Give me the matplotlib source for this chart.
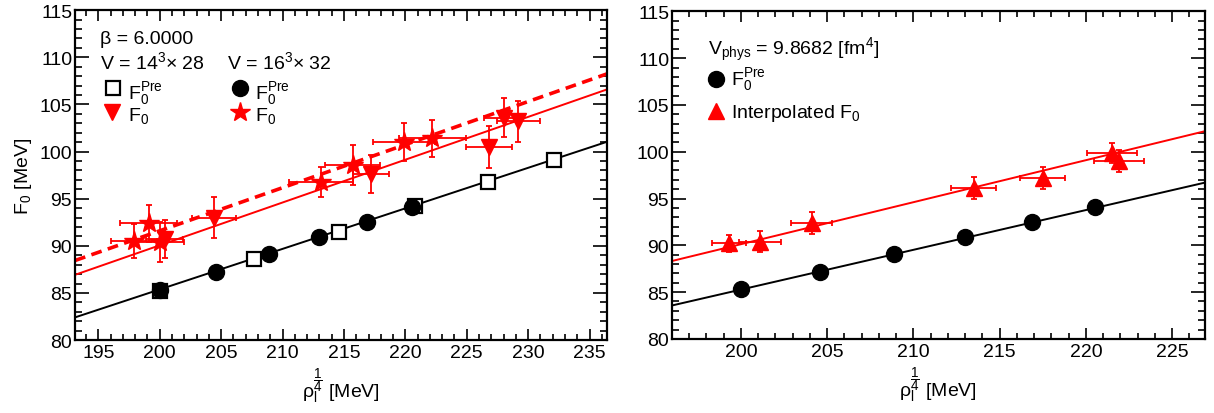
import matplotlib
matplotlib.use("Agg")
import matplotlib.pyplot as plt
import numpy as np
from matplotlib.ticker import MultipleLocator

plt.rcParams['font.family'] = ['Liberation Sans', 'DejaVu Sans']
plt.rcParams['mathtext.fontset'] = 'custom'
plt.rcParams['mathtext.rm'] = 'Liberation Sans'
plt.rcParams['mathtext.it'] = 'Liberation Sans:italic'
plt.rcParams['mathtext.bf'] = 'Liberation Sans:bold'

# --- left panel: beta = 6.0, two lattice volumes ---
rho14_pre = [200.0, 207.7, 214.6, 220.8, 226.7, 232.1]
F14_pre = [85.2, 88.6, 91.5, 94.2, 96.8, 99.1]

rho16_pre = [200.0, 204.6, 208.9, 213.0, 216.9, 220.5]
F16_pre = [85.3, 87.2, 89.1, 90.9, 92.5, 94.1]

rho14 = [200.4, 204.4, 217.2, 226.8, 228.0, 229.2]
F14 = [90.7, 93.0, 97.6, 100.5, 103.6, 103.2]
rho14_err = [1.5, 1.8, 1.5, 1.9, 1.6, 1.75]
F14_err = [2.0, 2.15, 2.0, 2.2, 2.1, 2.2]

rho16 = [197.9, 199.1, 200.0, 213.1, 215.7, 219.9, 222.2]
F16 = [90.5, 92.4, 90.4, 96.8, 98.6, 101.0, 101.4]
rho16_err = [1.9, 2.3, 2.0, 2.6, 2.25, 2.5, 2.7]
F16_err = [1.8, 1.95, 2.1, 1.6, 2.1, 2.0, 2.0]

# linear fits: value at rho = 200 MeV, slope
fit_left_pre = (85.38, 0.430)
fit_left_14 = (90.06, 0.454)
fit_left_16 = (91.6, 0.457)

# --- right panel: physical volume ---
rho_phys = rho16_pre
F_phys_pre = F16_pre
rho_int = [199.3, 201.1, 204.1, 213.5, 217.5, 221.5, 221.9]
F_int = [90.2, 90.4, 92.4, 96.1, 97.2, 99.9, 99.0]
rho_int_err = [1.0, 1.2, 1.2, 1.3, 1.3, 1.45, 1.45]
F_int_err = [0.95, 1.1, 1.15, 1.2, 1.2, 1.05, 1.15]

fit_right_pre = (85.27, 0.425)
fit_right_int = (90.12, 0.449)

FS = 14
RED = '#ff0000'
XLABEL = r'$\mathregular{\rho_{l}^{\dfrac{1}{4}}}$ [MeV]'


def fit_line(ax, fit, **kw):
    x0, x1 = ax.get_xlim()
    xs = np.array([x0, x1])
    ax.plot(xs, fit[0] + fit[1] * (xs - 200.0), **kw)


def style_axes(ax):
    ax.set_ylim(80, 115)
    ax.xaxis.set_major_locator(MultipleLocator(5))
    ax.xaxis.set_minor_locator(MultipleLocator(1))
    ax.yaxis.set_major_locator(MultipleLocator(5))
    ax.yaxis.set_minor_locator(MultipleLocator(1))
    ax.tick_params(which='both', direction='in', top=True, right=True,
                   labelsize=FS, width=1.2)
    ax.tick_params(axis='x', which='major', length=8, pad=3)
    ax.tick_params(axis='x', which='minor', length=4)
    ax.tick_params(axis='y', which='major', length=10, pad=2)
    ax.tick_params(axis='y', which='minor', length=5)
    for s in ax.spines.values():
        s.set_linewidth(1.6)
    ax.set_xlabel(XLABEL, fontsize=FS, labelpad=3)


fig = plt.figure(figsize=(12.14, 4.14), dpi=100)
ax1 = fig.add_axes([0.0618, 0.176, 0.438, 0.797])
ax2 = fig.add_axes([0.5535, 0.179, 0.439, 0.791])

# left
ax1.set_xlim(193.1, 236.4)
style_axes(ax1)
ax1.set_ylabel(r'$\mathregular{F_{0}}$ [MeV]', fontsize=FS, labelpad=4)
fit_line(ax1, fit_left_pre, color='black', lw=1.4)
fit_line(ax1, fit_left_14, color=RED, lw=1.4)
fit_line(ax1, fit_left_16, color=RED, lw=2.6, dashes=(3.0, 1.8))

ax1.errorbar(rho14, F14, xerr=rho14_err, yerr=F14_err, fmt='v', color=RED,
             ms=11.5, elinewidth=1.3, capsize=2, capthick=1.3, zorder=4)
ax1.errorbar(rho16, F16, xerr=rho16_err, yerr=F16_err, fmt='*', color=RED,
             ms=15, elinewidth=1.3, capsize=2, capthick=1.3, zorder=4)
ax1.plot(rho14_pre, F14_pre, 's', mfc='white', mec='black', mew=1.6, ms=10.5, zorder=5)
ax1.plot(rho16_pre, F16_pre, 'o', color='black', ms=11.5, zorder=6)

# left legend block
ax1.text(0.047, 0.902, 'β = 6.0000', transform=ax1.transAxes, fontsize=FS, va='baseline')
ax1.text(0.047, 0.824, r'V = 14$\mathregular{^{3}}$× 28', transform=ax1.transAxes,
         fontsize=FS, va='baseline')
ax1.text(0.285, 0.824, r'V = 16$\mathregular{^{3}}$× 32', transform=ax1.transAxes,
         fontsize=FS, va='baseline')
ax1.plot([0.071], [0.763], 's', mfc='white', mec='black', mew=1.6, ms=10.5,
         transform=ax1.transAxes)
ax1.plot([0.070], [0.690], 'v', color=RED, ms=11.5, transform=ax1.transAxes)
ax1.plot([0.310], [0.763], 'o', color='black', ms=11.5, transform=ax1.transAxes)
ax1.plot([0.310], [0.690], '*', color=RED, ms=15, transform=ax1.transAxes)
for xt in (0.0996, 0.338):
    ax1.text(xt, 0.735, r'$\mathregular{F_{0}^{Pre}}$', transform=ax1.transAxes,
             fontsize=FS, va='baseline')
    ax1.text(xt, 0.668, r'$\mathregular{F_{0}}$', transform=ax1.transAxes,
             fontsize=FS, va='baseline')

# right
ax2.set_xlim(196.0, 226.9)
style_axes(ax2)
fit_line(ax2, fit_right_pre, color='black', lw=1.4)
fit_line(ax2, fit_right_int, color=RED, lw=1.4)
ax2.errorbar(rho_int, F_int, xerr=rho_int_err, yerr=F_int_err, fmt='^', color=RED,
             ms=11.5, elinewidth=1.3, capsize=2, capthick=1.3, zorder=4)
ax2.plot(rho_phys, F_phys_pre, 'o', color='black', ms=11.5, zorder=6)

ax2.text(0.0675, 0.871, r'$\mathregular{V_{phys}}$ = 9.8682 [fm$\mathregular{^{4}}$]',
         transform=ax2.transAxes, fontsize=FS, va='baseline')
ax2.plot([0.0826], [0.794], 'o', color='black', ms=11.5, transform=ax2.transAxes)
ax2.plot([0.0826], [0.697], '^', color=RED, ms=11.5, transform=ax2.transAxes)
ax2.text(0.110, 0.779, r'$\mathregular{F_{0}^{Pre}}$', transform=ax2.transAxes,
         fontsize=FS, va='baseline')
ax2.text(0.110, 0.677, r'Interpolated $\mathregular{F_{0}}$', transform=ax2.transAxes,
         fontsize=FS, va='baseline')

fig.savefig('out.png', dpi=100)
